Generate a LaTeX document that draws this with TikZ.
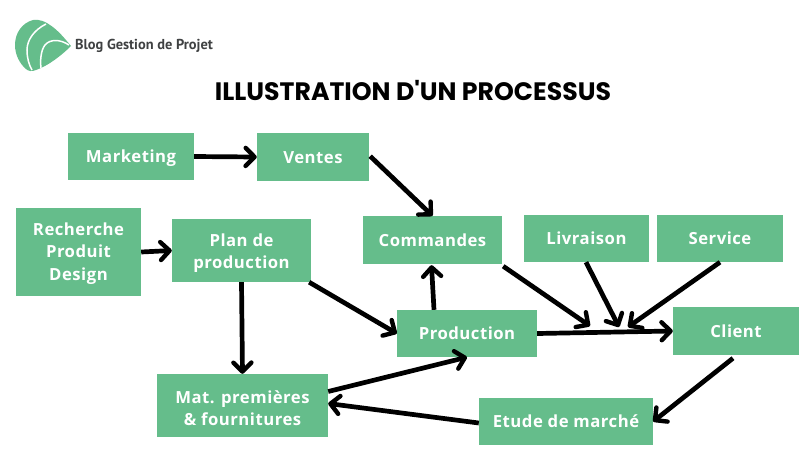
\documentclass[tikz,border=0pt]{standalone}
\usepackage{fontspec}
\usetikzlibrary{arrows.meta,calc}
\newfontfamily\boxfont[LetterSpace=3.0]{Open Sans}
\newfontfamily\titlefont{Poppins}
\newfontfamily\logofont{PT Sans}
\definecolor{boxgreen}{HTML}{65BD8B}
\definecolor{logogray}{HTML}{3F4142}
\tikzset{
  x=1pt,y=-1pt,
  boxnode/.style={fill=boxgreen,draw=none,inner sep=0pt},
  boxtext/.style={inner sep=0pt,text=white,align=center,
    font=\boxfont\bfseries\fontsize{16.7}{22.5}\selectfont},
  oneline/.style={boxtext,text height=12pt,text depth=4pt,yshift=-2.2pt},
  twolines/.style={boxtext,yshift=-2.5pt},
  threelines/.style={boxtext,yshift=-1.5pt},
  flow/.style={draw=black,line width=4.7pt,-{Straight Barb[length=9pt,width=18pt,line width=4.4pt,round]}},
}
\newcommand{\boxat}[7][oneline]{\node[boxnode,minimum width=#5pt - #4pt,minimum height=#7pt - #6pt,label={[#1]center:{#3}}] (#2) at ({(#4+#5)/2},{(#6+#7)/2}) {};}
\begin{document}
\begin{tikzpicture}
\useasboundingbox (0,0) rectangle (811,456);
\fill[white] (0,0) rectangle (811,456);
% logo
\fill[boxgreen] (33,20) .. controls (40,19) and (46,22) .. (50,25)
  .. controls (58,30) and (66,40) .. (71,46)
  .. controls (62,55) and (48,66) .. (36,70)
  .. controls (32,72) and (28,71) .. (26,69)
  .. controls (20,64) and (15,55) .. (15,45)
  .. controls (15,33) and (22,23) .. (33,20) -- cycle;
\draw[white,line width=1.5pt] (46,24) .. controls (34,30) and (27,40) .. (27,50) .. controls (27,58) and (29,65) .. (32,70);
\draw[white,line width=1.5pt] (69,45) .. controls (60,39) and (50,39) .. (45,45) .. controls (41,50) and (40,60) .. (41,68);
\node[anchor=west,inner sep=0pt,text=logogray,font=\logofont\bfseries\fontsize{14.4}{16}\selectfont] (logotext) at (75,45.5) {Blog Gestion de Projet};
\node[inner sep=0pt,font=\titlefont\bfseries\fontsize{25.2}{28}\selectfont] (title) at (413,91) {ILLUSTRATION D'UN PROCESSUS};
% boxes
\boxat{mk}{Marketing}{68}{194}{133}{180}
\boxat{ve}{Ventes}{257}{369}{133}{181}
\boxat[threelines]{re}{Recherche\\Produit\\Design}{16}{141}{208}{296}
\boxat[twolines]{pl}{Plan de\\production}{172}{311}{219}{282}
\boxat{co}{Commandes}{363}{502}{216}{264}
\boxat{li}{Livraison}{524}{649}{215}{262}
\boxat{se}{Service}{657}{783}{215}{262}
\boxat{pr}{Production}{397}{537}{310}{357}
\boxat{cl}{Client}{673}{799}{307}{355}
\boxat[twolines]{ma}{Mat. premières\\\& fournitures}{157}{328}{374}{437}
\boxat{et}{Etude de marché}{479}{653}{398}{445}
% free arrow ends, on the line into Client
\coordinate (m1) at (590,326);
\coordinate (m2) at (619,327);
\coordinate (m3) at (628,327);
% connectors
\draw[flow] (mk.east) -- (ve.west);
\draw[flow] (ve.south east) ++(1,-25) -- (co.north);
\draw[flow] (re.east) -- (pl.west);
\draw[flow] ($(pl.south east)+(-2,0)$) -- (pr.west);
\draw[flow] (pl.south) -- (ma.north);
\draw[flow] ($(pr.north)+(-33,0)$) -- ($(co.south)+(-1,1)$);
\draw[flow] (pr.east) -- (cl.west);
\draw[flow] ($(ma.east)+(0,-14)$) -- (pr.south);
\draw[flow] ($(et.west)+(0,1.5)$) -- ($(ma.east)+(0,-2)$);
\draw[flow] ($(cl.south)+(-3,3)$) -- (et.east);
\draw[flow] ($(co.south east)+(1,2)$) -- (m1);
\draw[flow] ($(li.south)+(-0.5,0)$) -- (m2);
\draw[flow] ($(se.south)+(0,0)$) -- (m3);
\end{tikzpicture}
\end{document}
